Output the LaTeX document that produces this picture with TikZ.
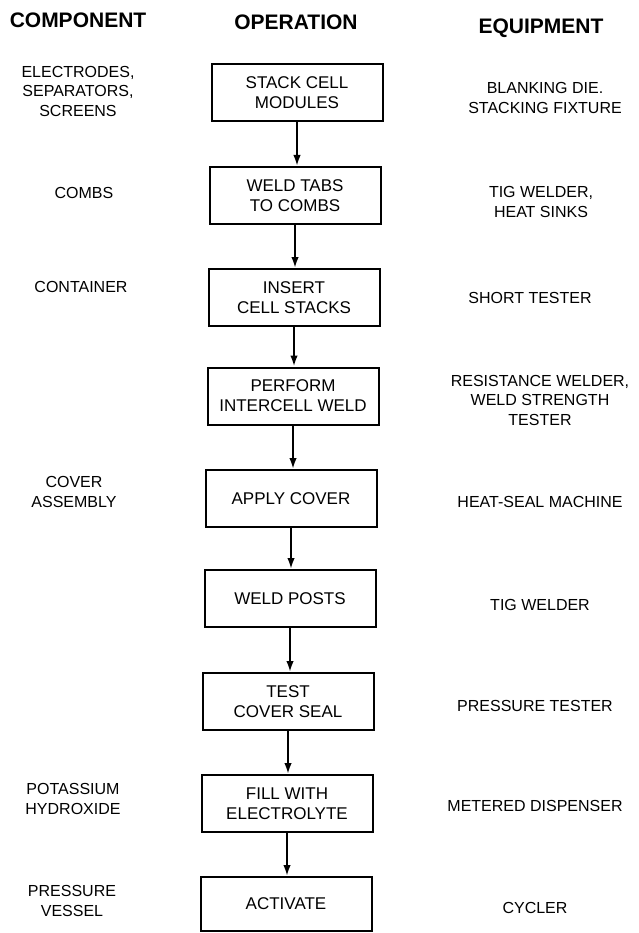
\documentclass[tikz,border=0pt]{standalone}
\usepackage{fontspec}
\setmainfont{Liberation Sans}
\usetikzlibrary{arrows.meta}
\begin{document}
\begin{tikzpicture}[x=1pt,y=-1pt,
  opbox/.style={draw,line width=2pt,minimum width=171pt,minimum height=57pt,inner sep=0pt,align=center,
    font=\fontsize{17}{20}\selectfont},
  side/.style={align=center,inner sep=0pt,font=\fontsize{16}{19.5}\selectfont},
  head/.style={inner sep=0pt,font=\fontsize{21}{24}\selectfont\bfseries},
  flow/.style={line width=2pt,-{Latex[length=11pt,width=7.5pt]}}]
\useasboundingbox (0,0) rectangle (638,933);
% headers
\node[head] (hc) at (78,20) {COMPONENT};
\node[head] (ho) at (296,22) {OPERATION};
\node[head] (he) at (541,28) {EQUIPMENT};
% operation boxes
\node[opbox] (b1) at (297,93) {STACK CELL\\MODULES};
\node[opbox] (b2) at (295,195.5) {WELD TABS\\TO COMBS};
\node[opbox] (b3) at (294,297.5) {INSERT\\CELL STACKS};
\node[opbox] (b4) at (293,396) {PERFORM\\INTERCELL WELD};
\node[opbox] (b5) at (291,498.5) {APPLY COVER};
\node[opbox] (b6) at (290,598.5) {WELD POSTS};
\node[opbox] (b7) at (288,701.5) {TEST\\COVER SEAL};
\node[opbox] (b8) at (287,803.5) {FILL WITH\\ELECTROLYTE};
\node[opbox,minimum height=54pt] (b9) at (286,904) {ACTIVATE};
% connectors
\foreach \a/\b in {b1/b2,b2/b3,b3/b4,b4/b5,b5/b6,b6/b7,b7/b8,b8/b9}
  \draw[flow] (\a.south) -- (\a.south |- \b.north);
% components
\node[side] (c1) at (78,91) {ELECTRODES,\\SEPARATORS,\\SCREENS};
\node[side] (c2) at (84,193) {COMBS};
\node[side] (c3) at (81,287) {CONTAINER};
\node[side] (c5) at (74,492) {COVER\\ASSEMBLY};
\node[side] (c8) at (73,799) {POTASSIUM\\HYDROXIDE};
\node[side] (c9) at (72,901) {PRESSURE\\VESSEL};
% equipment
\node[side] (e1) at (545,98) {BLANKING DIE.\\STACKING FIXTURE};
\node[side] (e2) at (541,202) {TIG WELDER,\\HEAT SINKS};
\node[side] (e3) at (530,298) {SHORT TESTER};
\node[side] (e4) at (540,400) {RESISTANCE WELDER,\\WELD STRENGTH\\TESTER};
\node[side] (e5) at (540,502) {HEAT-SEAL MACHINE};
\node[side] (e6) at (540,605) {TIG WELDER};
\node[side] (e7) at (535,706) {PRESSURE TESTER};
\node[side] (e8) at (535,806) {METERED DISPENSER};
\node[side] (e9) at (535,908) {CYCLER};
\end{tikzpicture}
\end{document}
